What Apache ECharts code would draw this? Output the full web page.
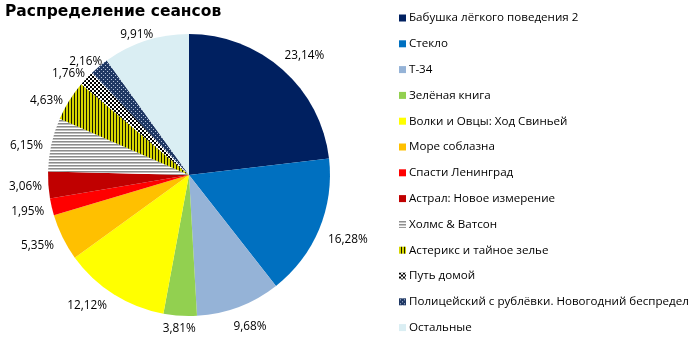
<!DOCTYPE html>
<html><head><meta charset="utf-8">
<script src="https://cdn.jsdelivr.net/npm/echarts@6/dist/echarts.min.js"></script>
<style>html,body{margin:0;padding:0;background:#fff}#c{width:700px;height:346px}</style>
</head><body><div id="c"></div>
<script>
const titleText = 'Распределение сеансов';
const categories = ['Бабушка лёгкого поведения 2','Стекло','Т-34','Зелёная книга','Волки и Овцы: Ход Свиньей','Море соблазна','Спасти Ленинград','Астрал: Новое измерение','Холмс & Ватсон','Астерикс и тайное зелье','Путь домой','Полицейский с рублёвки. Новогодний беспредел','Остальные'];
const values = [23.14,16.28,9.68,3.81,12.12,5.35,1.95,3.06,6.15,4.63,1.76,2.16,9.91];

function tile(w,h,draw){const c=document.createElement('canvas');c.width=w;c.height=h;const g=c.getContext('2d');draw(g);return {image:c,repeat:'repeat'};}
const pHolmes = tile(4,3,g=>{g.fillStyle='#ffffff';g.fillRect(0,0,4,3);g.fillStyle='#8c8c8c';g.fillRect(0,0,4,1);g.fillStyle='#bfbfbf';g.fillRect(0,1,4,1);});
const pAsterix = tile(3,4,g=>{g.fillStyle='#d6d600';g.fillRect(0,0,3,4);g.fillStyle='#1a1a00';g.fillRect(2,0,1,4);});
const pPut = tile(4,4,g=>{g.fillStyle='#ffffff';g.fillRect(0,0,4,4);g.fillStyle='#000000';g.fillRect(0,0,2,2);g.fillRect(2,2,2,2);});
const pPol = tile(4,4,g=>{g.fillStyle='#1f3864';g.fillRect(0,0,4,4);g.fillStyle='#b8c4dc';g.fillRect(1,1,1,1);g.fillRect(3,3,1,1);});
const colors = ['#002060','#0070c0','#95b3d7','#92d050','#ffff00','#ffc000','#ff0000','#c00000',pHolmes,pAsterix,pPut,pPol,'#daeef3'];

const CX = 189, CY = 175, R = 141, GAP = 6;
const total = values.reduce((a,b)=>a+b,0);
const midAngles = []; { let acc = 0; values.forEach(v=>{ midAngles.push((acc+v/2)/total*2*Math.PI); acc+=v; }); }
// small per-label nudges to mimic the original's best-fit placement (style only)
const labelNudge = {0:[6,4],1:[4,0],2:[5,3],4:[-15,-7],5:[-4,-2],6:[-1,-1],8:[-2,6],9:[-3,12],10:[-2,11],11:[0,12],12:[-4,10]};

const chart = echarts.init(document.getElementById('c'));
chart.setOption({
  animation:false,
  title:{text:titleText,left:0,top:-1,textStyle:{fontFamily:'DejaVu Sans',fontWeight:'bold',fontSize:15.5,color:'#000'}},
  legend:{orient:'vertical',left:394,top:6,itemWidth:7,itemHeight:7,icon:'rect',itemGap:11.8,
    textStyle:{fontFamily:'Open Sans',fontSize:11.6,color:'#000',lineHeight:14,padding:[0,0,0,-2]},
    data:categories},
  series:[{type:'pie',center:[CX,CY],radius:[0,R],startAngle:90,clockwise:true,
    avoidLabelOverlap:false,
    label:{show:true,position:'outside',formatter:p=>p.value.toFixed(2).replace('.',',')+'%',
      fontFamily:'Open Sans',fontSize:11.8,color:'#000'},
    labelLine:{show:false,length:6,length2:0},
    labelLayout:function(p){
      const a = midAngles[p.dataIndex];
      const dx = Math.sin(a), dy = -Math.cos(a);
      const w = p.labelRect.width, h = p.labelRect.height;
      const half = Math.abs(dx)*w/2 + Math.abs(dy)*h/2;
      const d = R + GAP + half;
      const n = labelNudge[p.dataIndex] || [0,0];
      return {x: CX + dx*d + n[0], y: CY + dy*d + n[1], align:'center', verticalAlign:'middle'};
    },
    emphasis:{disabled:true},
    data:categories.map((n,i)=>({name:n,value:values[i],itemStyle:{color:colors[i]}}))
  }]
});
</script></body></html>
